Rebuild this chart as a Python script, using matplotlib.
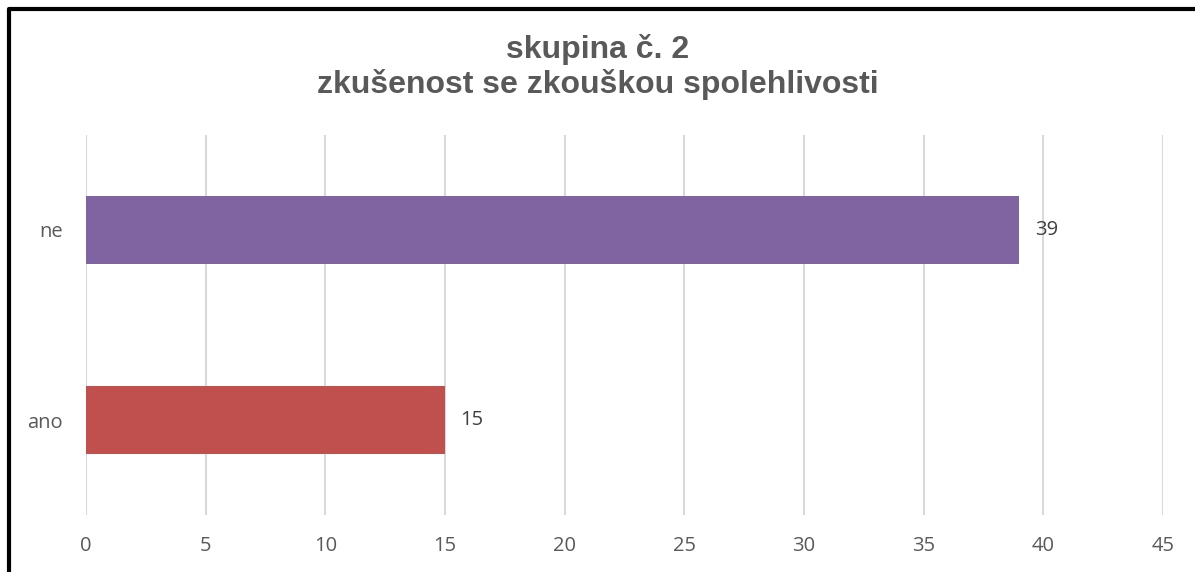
import matplotlib.pyplot as plt
from matplotlib.lines import Line2D

categories = ['ano', 'ne']
values = [15, 39]
colors = ['#C0504D', '#8064A2']
x_ticks = [0, 5, 10, 15, 20, 25, 30, 35, 40, 45]

plt.rcParams['font.family'] = ['Open Sans', 'DejaVu Sans']

W, H = 1195, 572
fig = plt.figure(figsize=(W / 100, H / 100), dpi=100)
ax = fig.add_axes([86 / W, 1 - 515 / H, (1163 - 86) / W, (515 - 135) / H])

y = range(len(categories))
ax.barh(y, values, height=0.355, color=colors, zorder=3)
for yi, v in zip(y, values):
    ax.text(v + 0.65, yi, str(v), va='center', ha='left', fontsize=14.5, color='#404040')

ax.set_xlim(0, 45)
ax.set_ylim(-0.5, 1.5)
ax.set_xticks(x_ticks)
ax.set_yticks(list(y))
ax.set_yticklabels(categories)
ax.tick_params(axis='both', length=0, labelsize=14.5, labelcolor='#595959')
ax.tick_params(axis='x', pad=15)
ax.tick_params(axis='y', pad=17)
ax.grid(axis='x', color='#D9D9D9', linewidth=1.5, zorder=0)
for s in ax.spines.values():
    s.set_visible(False)

fig.text(0.5, 1 - 67 / H, 'skupina č. 2\nzkušenost se zkouškou spolehlivosti',
         ha='center', va='center', fontsize=23, fontweight='bold', color='#595959',
         family=['Liberation Sans', 'DejaVu Sans'], linespacing=1.15)

# outer frame: only left and top edges show in the original
fig.add_artist(Line2D([8.5 / W, 8.5 / W, 1], [0, 1 - 8.5 / H, 1 - 8.5 / H],
                      transform=fig.transFigure, color='black', linewidth=3))

fig.savefig('out.png', dpi=100)
